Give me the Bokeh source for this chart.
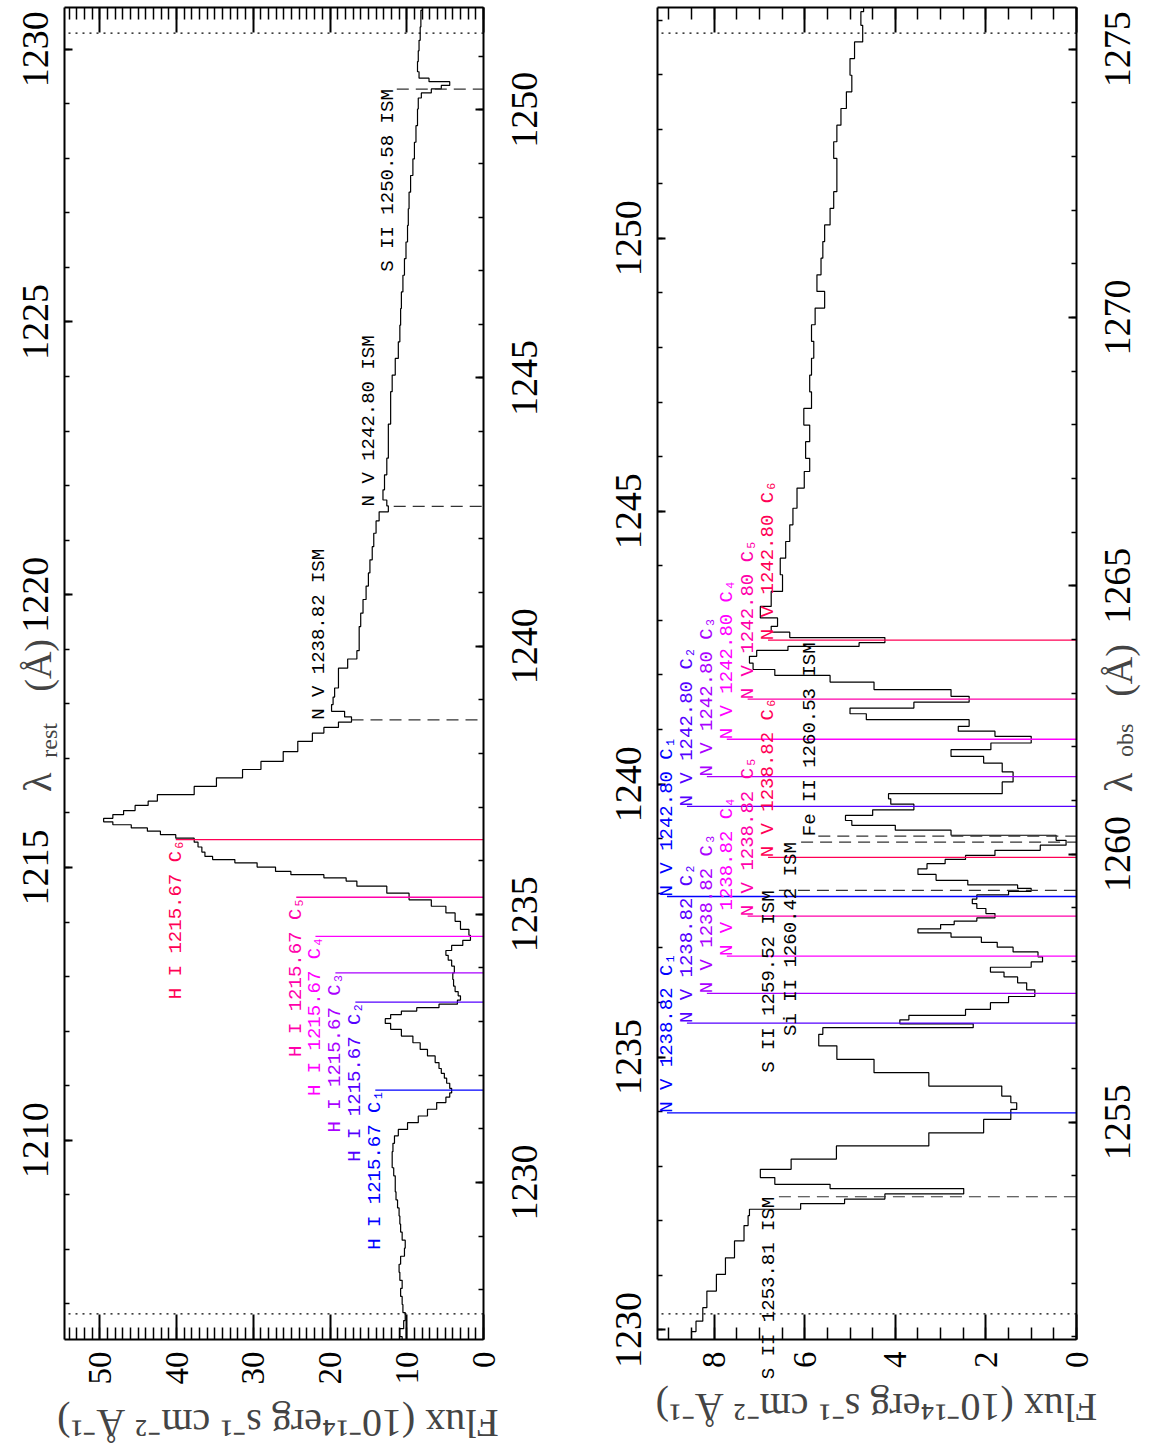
import math
import numpy as np
from bokeh.embed import file_html
from bokeh.layouts import row
from bokeh.models import (CustomJSTickFormatter, Label, LinearAxis, Range1d,
                          SingleIntervalTicker)
from bokeh.plotting import figure
from bokeh.resources import INLINE

C_KMS = 299792.458
Z_SYS = 0.01718      # systemic redshift for the rest-frame axis
V_ISM = -47.0        # velocity of the Galactic ISM lines, km/s

# Observed wavelength (Angstrom) and flux (1e-14 erg s-1 cm-2 A-1)
wave_obs = [
    1227.05, 1227.20, 1227.35, 1227.50, 1227.65, 1227.80, 1227.95, 1228.10, 1228.25, 1228.40,
    1228.55, 1228.70, 1228.85, 1229.00, 1229.15, 1229.30, 1229.45, 1229.60, 1229.75, 1229.90,
    1230.05, 1230.20, 1230.35, 1230.50, 1230.65, 1230.81, 1230.93, 1231.05, 1231.18, 1231.30,
    1231.43, 1231.55, 1231.63, 1231.71, 1231.80, 1231.90, 1231.99, 1232.08, 1232.17, 1232.30,
    1232.42, 1232.54, 1232.67, 1232.79, 1232.92, 1233.01, 1233.10, 1233.16, 1233.23, 1233.29,
    1233.36, 1233.44, 1233.52, 1233.60, 1233.72, 1233.85, 1233.97, 1234.10, 1234.19, 1234.28,
    1234.37, 1234.47, 1234.56, 1234.66, 1234.78, 1234.96, 1235.09, 1235.21, 1235.33, 1235.46,
    1235.59, 1235.65, 1235.71, 1235.77, 1235.83, 1235.93, 1235.99, 1236.05, 1236.11, 1236.21,
    1236.30, 1236.39, 1236.45, 1236.52, 1236.58, 1236.64, 1236.70, 1236.75, 1236.83, 1236.89,
    1236.98, 1237.08, 1237.14, 1237.32, 1237.45, 1237.64, 1237.76, 1237.94, 1238.13, 1238.32,
    1238.44, 1238.53, 1238.64, 1238.72, 1238.85, 1238.97, 1239.13, 1239.31, 1239.50, 1239.68,
    1239.84, 1239.99, 1240.24, 1240.49, 1240.74, 1241.00, 1241.24, 1241.49, 1241.73, 1241.98,
    1242.23, 1242.44, 1242.57, 1242.66, 1242.79, 1243.04, 1243.35, 1243.66, 1243.97, 1244.31,
    1244.59, 1244.90, 1245.21, 1245.52, 1245.83, 1246.14, 1246.45, 1246.76, 1247.07, 1247.38,
    1247.69, 1248.00, 1248.31, 1248.62, 1248.93, 1249.24, 1249.55, 1249.86, 1250.17, 1250.27,
    1250.36, 1250.42, 1250.49, 1250.56, 1250.62, 1250.80, 1251.00, 1251.20, 1251.39, 1251.70,
    1252.01, 1252.32, 1252.63, 1252.95, 1253.20, 1253.32, 1253.44, 1253.53, 1253.61, 1253.72,
    1253.81, 1253.88, 1254.06, 1254.19, 1254.44, 1254.68, 1254.93, 1255.18, 1255.30, 1255.43,
    1255.55, 1255.80, 1256.05, 1256.30, 1256.55, 1256.73, 1256.80, 1256.87, 1256.95, 1257.04,
    1257.17, 1257.29, 1257.40, 1257.54, 1257.66, 1257.76, 1257.84, 1257.94, 1258.04, 1258.13,
    1258.22, 1258.31, 1258.40, 1258.50, 1258.56, 1258.65, 1258.72, 1258.78, 1258.84, 1258.94,
    1259.03, 1259.12, 1259.20, 1259.28, 1259.33, 1259.39, 1259.46, 1259.56, 1259.68, 1259.77,
    1259.87, 1259.93, 1260.02, 1260.12, 1260.21, 1260.30, 1260.40, 1260.49, 1260.58, 1260.67,
    1260.77, 1260.88, 1260.98, 1261.08, 1261.17, 1261.26, 1261.43, 1261.63, 1261.76, 1261.88,
    1262.01, 1262.13, 1262.26, 1262.32, 1262.44, 1262.57, 1262.66, 1262.78, 1262.88, 1263.00,
    1263.13, 1263.28, 1263.38, 1263.50, 1263.62, 1263.75, 1263.84, 1263.90, 1263.98, 1264.09,
    1264.18, 1264.31, 1264.49, 1264.74, 1265.05, 1265.36, 1265.67, 1265.98, 1266.29, 1266.60,
    1267.04, 1267.22, 1267.53, 1267.84, 1268.15, 1268.46, 1268.77, 1269.08, 1269.40, 1269.71,
    1270.02, 1270.33, 1270.64, 1270.95, 1271.26, 1271.57, 1271.88, 1272.19, 1272.50, 1272.81,
    1273.12, 1273.43, 1273.74, 1274.05, 1274.36, 1274.67, 1274.98, 1275.29, 1275.60, 1275.80,
]
flux = [
    10.6, 10.9, 10.4, 10.2, 10.5, 10.6, 10.8, 10.6, 10.9, 11.0,
    10.8, 10.3, 10.2, 10.6, 10.8, 10.9, 11.0, 11.2, 11.4, 11.5,
    11.5, 11.7, 11.9, 11.9, 11.8, 11.6, 11.1, 9.9, 8.5, 7.3,
    6.1, 4.9, 4.4, 4.15, 4.4, 4.8, 5.1, 5.5, 5.8, 6.3,
    7.3, 8.25, 9.2, 10.7, 12.1, 12.8, 12.1, 10.7, 8.7, 5.8,
    3.4, 3.0, 3.3, 3.7, 3.9, 4.0, 3.8, 4.15, 4.6, 4.9,
    4.15, 2.7, 1.7, 1.9, 3.0, 3.7, 4.9, 6.8, 9.7, 12.6,
    16.5, 17.9, 20.8, 25.1, 27.1, 29.5, 32.4, 35.3, 36.3, 36.7,
    37.2, 37.7, 40.1, 42.1, 43.8, 45.9, 48.3, 49.5, 48.3, 46.9,
    45.4, 43.7, 42.5, 37.7, 34.8, 31.4, 29.0, 26.1, 24.2, 22.3,
    20.8, 18.9, 17.2, 18.1, 19.8, 19.6, 19.4, 18.9, 18.9, 17.7,
    16.5, 16.2, 16.2, 16.0, 15.7, 15.3, 15.0, 14.8, 14.5, 14.3,
    14.0, 13.6, 12.4, 12.6, 13.1, 12.9, 12.6, 12.4, 12.4, 12.1,
    12.1, 11.9, 11.5, 11.1, 10.9, 10.8, 10.7, 10.5, 10.3, 10.1,
    9.9, 9.8, 9.7, 9.5, 9.2, 9.0, 8.8, 8.6, 8.5, 8.1,
    6.8, 5.5, 4.4, 7.1, 8.4, 8.6, 8.5, 8.4, 8.25, 8.16,
    7.95, 7.75, 7.55, 7.34, 7.25, 7.22, 6.09, 5.12, 4.23, 2.49,
    5.44, 6.66, 6.98, 6.3, 5.3, 3.26, 2.05, 1.45, 1.32, 1.45,
    1.65, 3.26, 4.47, 5.29, 5.69, 5.6, 2.28, 3.9, 3.7, 2.45,
    1.9, 1.5, 0.92, 1.1, 1.3, 1.6, 1.9, 1.0, 0.75, 0.85,
    1.4, 1.75, 2.1, 2.77, 3.5, 3.0, 2.7, 2.2, 1.8, 2.0,
    2.2, 2.3, 2.2, 1.5, 1.0, 1.3, 2.4, 3.1, 3.5, 3.3,
    2.9, 2.45, 1.8, 0.8, 0.23, 0.45, 2.77, 4.0, 4.96, 5.1,
    4.5, 3.59, 4.1, 4.15, 1.64, 1.64, 1.40, 1.64, 2.05, 2.77,
    1.89, 1.0, 1.80, 2.61, 2.37, 4.64, 5.0, 3.59, 2.37, 2.77,
    4.47, 5.44, 6.66, 7.14, 7.22, 7.06, 6.37, 4.8, 4.23, 6.33,
    6.74, 6.6, 6.98, 6.74, 6.49, 6.54, 6.42, 6.33, 6.26, 6.17,
    6.01, 5.89, 5.98, 5.89, 6.02, 5.85, 5.89, 5.85, 5.80, 5.85,
    5.77, 5.56, 5.73, 5.64, 5.60, 5.56, 5.44, 5.36, 5.29, 5.29,
    5.36, 5.29, 5.20, 5.08, 4.96, 5.00, 4.90, 4.72, 4.76, 4.70,
]

# Observed-wavelength limits of the two panels (dotted lines) and flux scales
panel_edges = [1227.55, 1251.43, 1275.30]
flux_max = [54.6, 9.25]
flux_major = [10, 2]
flux_minor = [10, 4]
wave_major = 5

# Intrinsic absorption components
comp_names = ["C\u2081", "C\u2082", "C\u2083", "C\u2084", "C\u2085", "C\u2086"]
comp_vel = [-1172, -774, -642, -477, -300, -39]
comp_colors = ["#0000ff", "#5500ff", "#aa00ff", "#ff00ff", "#ff00aa", "#ff0055"]
hi_rest = 1215.67
nv_rest = [1238.82, 1242.80]
hi_label_flux = [14.1, 16.7, 19.3, 21.9, 24.4, 40.1]
nv_label_flux = [9.04, 8.60, 8.16, 7.72, 7.26, 6.81]

# Galactic ISM lines
ism_panel = [0, 0, 0, 1, 1, 1, 1]
ism_ion = ["N V", "N V", "S II", "S II", "S II", "Si II", "Fe II"]
ism_wave = [1238.82, 1242.80, 1250.58, 1253.81, 1259.52, 1260.42, 1260.53]
ism_label_flux = [21.45, 14.9, 12.5, 6.79, 6.79, 6.30, 5.88]
ism_line_flux = [17.2, 11.7, 11.3, 6.57, 6.57, 6.08, 5.70]
ism_align = ["left", "left", "right", "right", "right", "right", "left"]

SERIF = "Liberation Serif"
MONO = "Liberation Mono"
UP = math.pi / 2
LABEL_PX = "19px"

# page geometry (pixels): each figure's canvas and the plotting box inside it
FIG_W = [570, 584]
FIG_H = 1450
BOX_L = [64, 87]
BOX_W = 419
BOX_T = 7
BOX_H = 1332

# bin edges of the spectrum
w = np.array(wave_obs)
f = np.array(flux)
mid = (w[1:] + w[:-1]) / 2
edges = np.concatenate([[w[0] - (w[1] - w[0]) / 2], mid, [w[-1] + (w[-1] - w[-2]) / 2]])


def shift(lam, vel):
    return lam * (1 + vel / C_KMS)


def y_limits(i):
    lo, hi = panel_edges[i], panel_edges[i + 1]
    pad = 0.02 * (hi - lo)
    return lo - pad, hi + pad


def staircase(lo, hi):
    """Histogram outline of the spectrum restricted to [lo, hi]."""
    xs, ys = [], []
    for k in range(len(f)):
        a, b = edges[k], edges[k + 1]
        if b <= lo or a >= hi:
            continue
        xs += [f[k], f[k]]
        ys += [max(a, lo), min(b, hi)]
    return xs, ys


def style_axis(ax, major_in, minor_in, size, standoff, labels=True):
    ax.major_tick_in = major_in
    ax.major_tick_out = 0
    ax.minor_tick_in = minor_in
    ax.minor_tick_out = 0
    ax.axis_line_width = 2
    ax.major_tick_line_width = 2
    ax.minor_tick_line_width = 1.5
    ax.major_label_orientation = UP
    ax.major_label_text_font = SERIF
    ax.major_label_text_font_size = size
    ax.major_label_text_color = "black"
    ax.major_label_standoff = standoff
    if not labels:
        ax.formatter = CustomJSTickFormatter(code="return ''")
        ax.major_label_standoff = 0


def wave_tick_labels(p, fx, lo, hi, offset, range_name="default"):
    """Upward-reading wavelength labels centred on the major ticks."""
    t = math.ceil(lo / wave_major) * wave_major
    while t <= hi:
        p.add_layout(Label(x=fx, y=t, y_range_name=range_name, text=f"{t:d}",
                           angle=UP, text_align="center", text_baseline="alphabetic",
                           x_offset=offset, text_font=SERIF, text_font_size="38px",
                           text_color="black"))
        t += wave_major


def make_panel(i):
    lo, hi = y_limits(i)
    fmax = flux_max[i]
    # the canvas is the frame; the box is drawn by axes at fixed locations
    sx = BOX_W / fmax
    sy = BOX_H / (hi - lo)
    x_start = fmax + BOX_L[i] / sx
    x_end = -(FIG_W[i] - BOX_L[i] - BOX_W) / sx
    y_end = hi + BOX_T / sy
    y_start = lo - (FIG_H - BOX_T - BOX_H) / sy
    p = figure(width=FIG_W[i], height=FIG_H,
               x_range=Range1d(x_start, x_end), y_range=Range1d(y_start, y_end),
               x_axis_type=None, y_axis_type=None, toolbar_location=None,
               output_backend="svg", min_border=0, min_border_left=0,
               min_border_right=0, min_border_top=0, min_border_bottom=0)
    p.extra_y_ranges = {"rest": Range1d(y_start / (1 + Z_SYS), y_end / (1 + Z_SYS))}
    p.outline_line_color = None
    p.background_fill_color = "white"
    p.border_fill_color = "white"

    bottom = LinearAxis(ticker=SingleIntervalTicker(interval=flux_major[i],
                                                    num_minor_ticks=flux_minor[i]),
                        fixed_location=lo, bounds=(0, fmax))
    style_axis(bottom, 25, 12, "33px", 12)
    top = LinearAxis(ticker=SingleIntervalTicker(interval=flux_major[i],
                                                 num_minor_ticks=flux_minor[i]),
                     fixed_location=hi, bounds=(0, fmax))
    style_axis(top, 25, 12, "33px", 0, labels=False)
    lo_r, hi_r = lo / (1 + Z_SYS), hi / (1 + Z_SYS)
    left = LinearAxis(y_range_name="rest",
                      ticker=SingleIntervalTicker(interval=wave_major, num_minor_ticks=5),
                      fixed_location=fmax, bounds=(lo_r, hi_r))
    style_axis(left, 8, 5, "38px", 0, labels=False)
    right = LinearAxis(ticker=SingleIntervalTicker(interval=wave_major, num_minor_ticks=5),
                       fixed_location=0, bounds=(lo, hi))
    style_axis(right, 8, 5, "38px", 0, labels=False)
    p.add_layout(bottom, "below")
    p.add_layout(top, "above")
    p.add_layout(left, "left")
    p.add_layout(right, "right")
    wave_tick_labels(p, fmax, lo_r, hi_r, -29, "rest")
    wave_tick_labels(p, 0, lo, hi, 41)

    # dotted limits of the wavelength interval of this panel
    for edge in (panel_edges[i], panel_edges[i + 1]):
        p.segment(x0=[0], y0=[edge], x1=[fmax], y1=[edge], line_color="black",
                  line_width=1.2, line_dash="2 5")

    sx_path, sy_path = staircase(lo, hi)
    p.line(sx_path, sy_path, line_color="black", line_width=1.2)

    # Galactic ISM lines
    for k in range(len(ism_wave)):
        if ism_panel[k] != i:
            continue
        lam = shift(ism_wave[k], V_ISM)
        p.segment(x0=[ism_line_flux[k]], y0=[lam], x1=[0], y1=[lam],
                  line_color="#333333", line_width=1.2, line_dash="12 7")
        p.add_layout(Label(x=ism_label_flux[k], y=lam,
                           text=f"{ism_ion[k]} {ism_wave[k]:.2f} ISM",
                           angle=UP, text_align=ism_align[k], text_baseline="middle",
                           text_font=MONO, text_font_size=LABEL_PX, text_color="black"))

    # intrinsic components
    for c in range(len(comp_vel)):
        if i == 0:
            lams = [shift(hi_rest, comp_vel[c]) * (1 + Z_SYS)]
            names = [f"H I {hi_rest:.2f} {comp_names[c]}"]
            xs = hi_label_flux[c]
            align = "right"
        else:
            lams = [shift(r, comp_vel[c]) * (1 + Z_SYS) for r in nv_rest]
            names = [f"N V {r:.2f} {comp_names[c]}" for r in nv_rest]
            xs = nv_label_flux[c]
            align = "left"
        for lam, name in zip(lams, names):
            p.segment(x0=[xs], y0=[lam], x1=[0], y1=[lam],
                      line_color=comp_colors[c], line_width=1.3)
            p.add_layout(Label(x=xs, y=lam, text=name, angle=UP, text_align=align,
                               text_baseline="middle", text_font=MONO,
                               text_font_size=LABEL_PX, text_color=comp_colors[c]))
    return p


p1 = make_panel(0)
p2 = make_panel(1)

# wavelength axis titles
for p, xl, xs, yl, ys, ya, sub in (
    (p1, 58.1, 56.6, 1237.28, 1237.92, 1239.15, "rest"),
    (p2, -0.93, -1.07, 1261.15, 1261.81, 1262.93, "obs"),
):
    p.add_layout(Label(x=xl, y=yl, text="\u03bb", angle=UP, text_align="left",
                       text_baseline="middle", text_font=SERIF, text_font_size="40px"))
    p.add_layout(Label(x=xs, y=ys, text=sub, angle=UP, text_align="left",
                       text_baseline="middle", text_font=SERIF, text_font_size="24px"))
    p.add_layout(Label(x=xl, y=ya, text="(\u00c5)", angle=UP, text_align="left",
                       text_baseline="middle", text_font=SERIF, text_font_size="38px"))

# flux axis titles
flux_title = "Flux  (10\u207b\u00b9\u2074erg  s\u207b\u00b9  cm\u207b\u00b2  \u00c5\u207b\u00b9)"
p1.add_layout(Label(x=29.4, y=1225.50, text=flux_title, angle=math.pi, text_align="center",
                    text_baseline="middle", text_font=SERIF, text_font_size="40px"))
p2.add_layout(Label(x=4.86, y=1249.69, text=flux_title, angle=math.pi, text_align="center",
                    text_baseline="middle", text_font=SERIF, text_font_size="40px"))

layout = row(p1, p2)
with open("out.html", "w") as fh:
    fh.write(file_html(layout, INLINE))
